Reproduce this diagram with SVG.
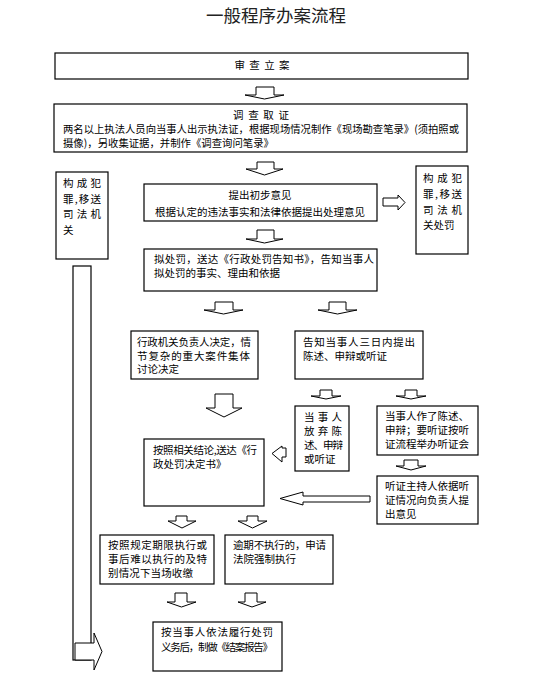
<svg xmlns="http://www.w3.org/2000/svg" width="545" height="697" viewBox="0 0 545 697">
<style>
.b{fill:#fff;stroke:#000;stroke-width:1.2}
.a{fill:#fff;stroke:#000;stroke-width:1}
.t{font-family:"Noto Sans CJK SC","Noto Sans",sans-serif;font-size:10.5px;fill:#000}
.c{text-anchor:middle}
.h{font-family:"Noto Sans CJK SC","Noto Sans",sans-serif;font-size:17.5px;fill:#222;text-anchor:middle}
</style>
<rect width="545" height="697" fill="#fff"/>
<text class="h" x="276" y="22">一般程序办案流程</text>
<g id="connectors">
<polygon class="a" points="256,87 274,87 274,95 284,95 264.5,99 245,95 256,95"/>
<polygon class="a" points="257,162 274,162 274,169 283,169 264.5,175 246,169 257,169"/>
<polygon class="a" points="257,230 274,230 274,239 283,239 264.5,243 246,239 257,239"/>
<polygon class="a" points="95,199 95,207 80,207 80,212 73,203.5 80,195 80,199"/>
<polygon class="a" points="383,198 398,198 398,195 405,202.5 398,210 398,206 383,206"/>
<polygon class="a" points="215,302 233,302 233,310 243,310 223.5,314 204,310 215,310"/>
<polygon class="a" points="329,302 346,302 346,310 357,310 337.5,314 318,310 329,310"/>
<polygon class="a" points="215,394 233,394 233,408 242,408 224,417 206,408 215,408"/>
<polygon class="a" points="320,390 332,390 332,396 341,396 326,399 311,396 320,396"/>
<polygon class="a" points="405,390 417,390 417,396 426,396 411,399 396,396 405,396"/>
<polygon class="a" points="404,460 418,460 418,466 426,466 411,470 396,466 404,466"/>
<polygon class="a" points="286,448 286,457 282,457 282,462 272,453.5 282,446 282,448"/>
<polygon class="a" points="370,496 370,502 303,502 303,505 280,498.5 303,492 303,496"/>
<polygon class="a" points="176,516 187,516 187,521 196,521 182,528 168,521 176,521"/>
<polygon class="a" points="247,516 258,516 258,521 267,521 252.5,528 238,521 247,521"/>
<polygon class="a" points="175,593 187,593 187,602 196,602 181.5,607 167,602 175,602"/>
<polygon class="a" points="245,593 257,593 257,602 266,602 252,607 238,602 245,602"/>
<rect class="b" x="73" y="266" width="18" height="394"/>
<polygon class="a" points="75,643 94,643 94,633 102,651.5 94,670 94,660 75,660"/>
</g>
<g id="n1"><rect class="b" x="55" y="53" width="413" height="26"/>
<text class="t c" x="262" y="68.5" textLength="55">审 查 立 案</text></g>
<g id="n2"><rect class="b" x="54" y="104" width="413" height="48"/>
<text class="t c" x="261" y="119" textLength="56">调 查 取 证</text>
<text class="t" x="63" y="132.5" textLength="396" lengthAdjust="spacingAndGlyphs">两名以上执法人员向当事人出示执法证，根据现场情况制作《现场勘查笔录》(须拍照或</text>
<text class="t" x="63" y="146.5" textLength="211" lengthAdjust="spacingAndGlyphs">摄像)，另收集证据，并制作《调查询问笔录》</text></g>
<g id="n3"><rect class="b" x="144" y="184" width="233" height="37"/>
<text class="t c" x="260" y="199">提出初步意见</text>
<text class="t c" x="260" y="216" textLength="210">根据认定的违法事实和法律依据提出处理意见</text></g>
<g id="n4"><rect class="b" x="56" y="172" width="52" height="87"/>
<text class="t" x="63" y="187" textLength="38">构 成 犯</text>
<text class="t" x="63" y="203" textLength="38">罪,移送</text>
<text class="t" x="63" y="218" textLength="38">司 法 机</text>
<text class="t" x="63" y="234">关</text></g>
<g id="n5"><rect class="b" x="416" y="166" width="52" height="88"/>
<text class="t" x="423" y="182" textLength="39">构 成 犯</text>
<text class="t" x="423" y="198" textLength="39">罪,移送</text>
<text class="t" x="423" y="214" textLength="39">司 法 机</text>
<text class="t" x="423" y="229">关处罚</text></g>
<g id="n6"><rect class="b" x="144" y="249" width="233" height="42"/>
<text class="t" x="154" y="263" textLength="220">拟处罚，送达《行政处罚告知书》，告知当事人</text>
<text class="t" x="154" y="277">拟处罚的事实、理由和依据</text></g>
<g id="n7"><rect class="b" x="131" y="331" width="127" height="48"/>
<text class="t" x="137" y="346" textLength="114">行政机关负责人决定，情</text>
<text class="t" x="137" y="359.5" textLength="113">节复杂的重大案件集体</text>
<text class="t" x="137" y="373">讨论决定</text></g>
<g id="n8"><rect class="b" x="295" y="331" width="128" height="48"/>
<text class="t" x="303" y="346" textLength="112">告知当事人三日内提出</text>
<text class="t" x="303" y="359.5">陈述、申辩或听证</text></g>
<g id="n9"><rect class="b" x="295" y="406" width="54" height="65"/>
<text class="t" x="304" y="421" textLength="38">当 事 人</text>
<text class="t" x="304" y="435" textLength="38">放 弃 陈</text>
<text class="t" x="304" y="449" textLength="39">述、申辩</text>
<text class="t" x="304" y="463">或听证</text></g>
<g id="n10"><rect class="b" x="377" y="406" width="101" height="49"/>
<text class="t" x="385" y="420">当事人作了陈述、</text>
<text class="t" x="385" y="434">申辩；要听证按听</text>
<text class="t" x="385" y="448">证流程举办听证会</text></g>
<g id="n11"><rect class="b" x="144" y="439" width="120" height="67"/>
<text class="t" x="153" y="454" textLength="104">按照相关结论,送达《行</text>
<text class="t" x="153" y="467.5">政处罚决定书》</text></g>
<g id="n12"><rect class="b" x="377" y="476" width="101" height="48"/>
<text class="t" x="385" y="490">听证主持人依据听</text>
<text class="t" x="385" y="504">证情况向负责人提</text>
<text class="t" x="385" y="518">出意见</text></g>
<g id="n13"><rect class="b" x="100" y="535" width="114" height="49"/>
<text class="t" x="108" y="549" textLength="99">按照规定期限执行或</text>
<text class="t" x="108" y="563" textLength="99">事后难以执行的及特</text>
<text class="t" x="108" y="577" textLength="85">别情况下当场收缴</text></g>
<g id="n14"><rect class="b" x="225" y="535" width="108" height="49"/>
<text class="t" x="233" y="549" textLength="93">逾期不执行的，申请</text>
<text class="t" x="233" y="563">法院强制执行</text></g>
<g id="n15"><rect class="b" x="153" y="622" width="129" height="49"/>
<text class="t" x="161" y="636" textLength="112">按当事人依法履行处罚</text>
<text class="t" x="161" y="651" textLength="112">义务后，制做《结案报告》</text></g>
</svg>
